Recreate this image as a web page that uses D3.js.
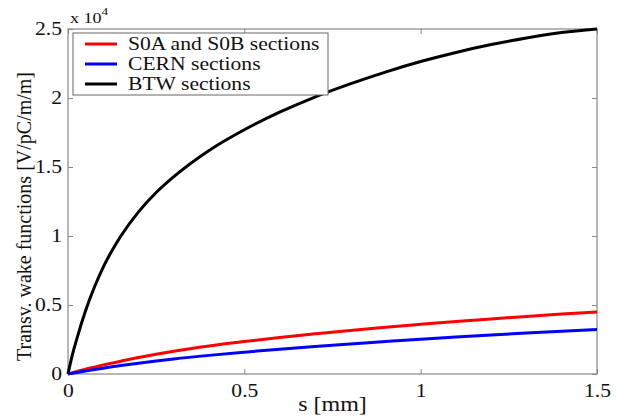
<!DOCTYPE html>
<html>
<head>
<meta charset="utf-8">
<script src="https://cdn.jsdelivr.net/npm/d3@7"></script>
<style>
  body { margin: 0; background: #fff; }
  svg, svg text { font-family: "Liberation Serif", "Times New Roman", "DejaVu Serif", serif; }
</style>
</head>
<body>
<div id="chart"></div>
<script>
// data (values in units of 1e4 V/pC/m/m)
const sValues = [0, 0.0125, 0.025, 0.05, 0.075, 0.1, 0.125, 0.15, 0.2, 0.25, 0.3, 0.4, 0.5, 0.6, 0.7, 0.8, 0.9, 1.0, 1.1, 1.2, 1.3, 1.4, 1.5];
const s0ab = [0, 0.009, 0.018, 0.035, 0.05, 0.065, 0.079, 0.093, 0.12, 0.143, 0.165, 0.203, 0.235, 0.265, 0.291, 0.316, 0.339, 0.36, 0.38, 0.399, 0.417, 0.434, 0.45];
const cern = [0, 0.0055, 0.011, 0.022, 0.032, 0.042, 0.052, 0.061, 0.078, 0.094, 0.109, 0.135, 0.158, 0.18, 0.2, 0.218, 0.235, 0.252, 0.268, 0.283, 0.297, 0.31, 0.322];
const btw  = [0, 0.14, 0.255, 0.46, 0.63, 0.775, 0.895, 1.0, 1.175, 1.315, 1.43, 1.62, 1.77, 1.897, 2.007, 2.102, 2.188, 2.264, 2.33, 2.387, 2.435, 2.474, 2.5];
const seriesNames = ['S0A and S0B sections', 'CERN sections', 'BTW sections'];
const seriesColors = ['#ff0000', '#0000ff', '#000000'];
const xTicks = [0, 0.5, 1, 1.5];
const yTicks = [0, 0.5, 1, 1.5, 2, 2.5];

const width = 619, height = 418;
const margin = {top: 29, right: 22, bottom: 44, left: 68};
const stretch = 1.2; // the glyphs in the picture are a bit wide
const serif = '"Liberation Serif", "Times New Roman", serif';

const svg = d3.select('#chart').append('svg')
  .attr('width', width).attr('height', height);

const x = d3.scaleLinear().domain([0, 1.5]).range([margin.left, width - margin.right]);
const y = d3.scaleLinear().domain([0, 2.5]).range([height - margin.bottom, margin.top]);

const axisColor = '#888';
const tickLen = 5;

// widen a text element around its own x
function widen(sel) {
  sel.each(function() {
    const t = d3.select(this);
    const tx = +t.attr('x') || 0;
    t.attr('transform', `translate(${tx},0) scale(${stretch},1) translate(${-tx},0)`);
  });
}

// box
svg.append('rect')
  .attr('x', x(0)).attr('y', y(2.5))
  .attr('width', x(1.5) - x(0)).attr('height', y(0) - y(2.5))
  .attr('fill', 'none').attr('stroke', axisColor).attr('stroke-width', 1.2);

// ticks inward, matlab style
const xAxisB = svg.append('g').attr('transform', `translate(0,${y(0)})`)
  .call(d3.axisBottom(x).tickValues(xTicks).tickSize(-tickLen).tickPadding(10).tickFormat(d3.format('')));
const xAxisT = svg.append('g').attr('transform', `translate(0,${y(2.5)})`)
  .call(d3.axisTop(x).tickValues(xTicks).tickSize(-tickLen).tickFormat(''));
const yAxisL = svg.append('g').attr('transform', `translate(${x(0)},0)`)
  .call(d3.axisLeft(y).tickValues(yTicks).tickSize(-tickLen).tickPadding(6).tickFormat(d3.format('')));
const yAxisR = svg.append('g').attr('transform', `translate(${x(1.5)},0)`)
  .call(d3.axisRight(y).tickValues(yTicks).tickSize(-tickLen).tickFormat(''));

[xAxisB, xAxisT, yAxisL, yAxisR].forEach(g => {
  g.attr('font-family', serif).attr('font-size', 18);
  g.select('.domain').remove();
  g.selectAll('.tick line').attr('stroke', axisColor);
  g.selectAll('.tick text').attr('fill', '#111').call(widen);
});
yAxisL.selectAll('.tick text').attr('dy', '0.32em');

// scale factor
const mult = svg.append('text').attr('x', 70).attr('y', 23)
  .attr('font-family', serif).attr('font-size', 15).attr('fill', '#111');
mult.append('tspan').text('x 10');
mult.append('tspan').attr('dy', -8).attr('font-size', 11).text('4');
widen(mult);

// axis labels
svg.append('text')
  .attr('x', (x(0) + x(1.5)) / 2).attr('y', 411)
  .attr('text-anchor', 'middle').attr('font-family', serif).attr('font-size', 20).attr('fill', '#111')
  .text('s [mm]').call(widen);
svg.append('text')
  .attr('transform', `translate(31,${(y(0) + y(2.5)) / 2 + 15}) rotate(-90)`)
  .attr('text-anchor', 'middle').attr('font-family', serif).attr('font-size', 20).attr('fill', '#111')
  .text('Transv. wake functions [V/pC/m/m]');

// curves
const line = d3.line()
  .x((d, i) => x(sValues[i]))
  .y(d => y(d))
  .curve(d3.curveMonotoneX);

const allSeries = [s0ab, cern, btw];
svg.selectAll('.curve').data(allSeries).enter().append('path')
  .attr('class', 'curve')
  .attr('d', d => line(d))
  .attr('fill', 'none')
  .attr('stroke', (d, i) => seriesColors[i])
  .attr('stroke-width', 3);

// legend
const legend = svg.append('g');
legend.append('rect')
  .attr('x', 73).attr('y', 33).attr('width', 255).attr('height', 62)
  .attr('fill', '#fff').attr('stroke', '#666').attr('stroke-width', 1);
seriesNames.forEach((name, i) => {
  const ly = 44 + i * 20;
  legend.append('line')
    .attr('x1', 85).attr('x2', 117).attr('y1', ly).attr('y2', ly)
    .attr('stroke', seriesColors[i]).attr('stroke-width', 3);
  legend.append('text')
    .attr('x', 128).attr('y', ly + 6)
    .attr('font-family', serif).attr('font-size', 18).attr('fill', '#111')
    .text(name).call(widen);
});
</script>
</body>
</html>
